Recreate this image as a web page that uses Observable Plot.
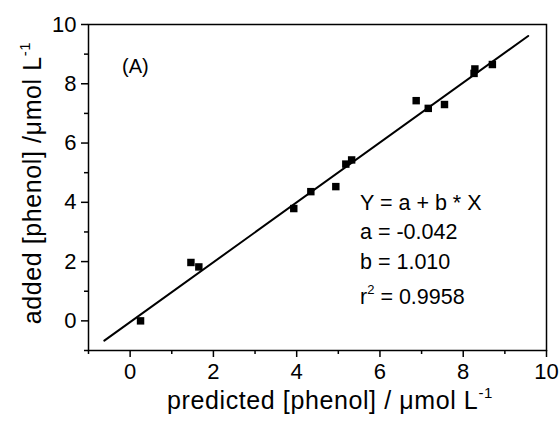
<!DOCTYPE html>
<html>
<head>
<meta charset="utf-8">
<script src="https://cdn.jsdelivr.net/npm/d3@7"></script>
<script src="https://cdn.jsdelivr.net/npm/@observablehq/plot@0.6"></script>
<style>
  html, body { margin: 0; padding: 0; background: #fff; }
  #chart svg { display: block; }
</style>
</head>
<body>
<div id="chart"></div>
<script>
// Data
const predicted = [0.25, 1.46, 1.65, 3.93, 4.34, 4.94, 5.18, 5.32, 6.87, 7.16, 7.55, 8.26, 8.28, 8.70];
const added     = [0.00, 1.97, 1.82, 3.79, 4.36, 4.53, 5.29, 5.43, 7.43, 7.17, 7.30, 8.35, 8.50, 8.65];

// Fit parameters and line extent
const fitA = -0.042;
const fitB = 1.010;
const fitXRange = [-0.62, 9.56];

// Ticks
const majorTicks = [0, 2, 4, 6, 8, 10];
const minorTicks = [-1, 1, 3, 5, 7, 9];

// Texts
const panelLabel = "(A)";
const equationLines = ["Y = a + b * X", "a = -0.042", "b = 1.010"];
const r2Value = "0.9958";
const xLabel = "predicted [phenol] / μmol L";
const yLabel = "added [phenol] /μmol L";
const unitSup = "-1";

const points = predicted.map((p, i) => ({x: p, y: added[i]}));
const fitLine = fitXRange.map(x => ({x, y: fitA + fitB * x}));

const font = "'Liberation Sans', Arial, Helvetica, sans-serif";

const svg = Plot.plot({
  width: 560,
  height: 424,
  marginLeft: 88,
  marginRight: 14,
  marginTop: 24,
  marginBottom: 74,
  style: {fontFamily: font, background: "#fff", color: "#000"},
  x: {domain: [-1, 10]},
  y: {domain: [-1, 10]},
  marks: [
    Plot.frame({stroke: "#000", strokeWidth: 1.5}),
    Plot.axisX({ticks: majorTicks, tickSize: 7, tickPadding: 6, fontSize: 22, strokeWidth: 1.5, label: null}),
    Plot.axisX({ticks: minorTicks, tickSize: 4, text: null, strokeWidth: 1.5, label: null}),
    Plot.axisY({ticks: majorTicks, tickSize: 7, tickPadding: 5, fontSize: 22, strokeWidth: 1.5, label: null}),
    Plot.axisY({ticks: minorTicks, tickSize: 4, text: null, strokeWidth: 1.5, label: null}),
    Plot.line(fitLine, {x: "x", y: "y", stroke: "#000", strokeWidth: 2}),
    Plot.dot(points, {x: "x", y: "y", symbol: "square", r: 4.2, fill: "#000", stroke: "none"})
  ]
});

const s = d3.select(svg);

s.append("text").attr("x", 122).attr("y", 73).attr("text-anchor", "start")
  .attr("font-size", 20).attr("font-family", font).text(panelLabel);

const eqX = 360, eqY0 = 210, eqDy = 29.3;
equationLines.forEach((t, i) => {
  s.append("text").attr("x", eqX).attr("y", eqY0 + i * eqDy).attr("text-anchor", "start")
    .attr("font-size", 21.5).attr("font-family", font).text(t);
});
const r2 = s.append("text").attr("x", eqX).attr("y", 304).attr("text-anchor", "start")
  .attr("font-size", 21.5).attr("font-family", font);
r2.append("tspan").text("r");
r2.append("tspan").attr("font-size", 13).attr("dy", -10).text("2");
r2.append("tspan").attr("dy", 10).text(" = " + r2Value);

const xl = s.append("text").attr("x", 330).attr("y", 409).attr("text-anchor", "middle")
  .attr("font-size", 25).attr("letter-spacing", 0.6).attr("font-family", font);
xl.append("tspan").text(xLabel);
xl.append("tspan").attr("font-size", 15).attr("dy", -11).text(unitSup);

const yl = s.append("text").attr("transform", "translate(41,183) rotate(-90)").attr("text-anchor", "middle")
  .attr("font-size", 25).attr("letter-spacing", 0.6).attr("font-family", font);
yl.append("tspan").text(yLabel);
yl.append("tspan").attr("font-size", 15).attr("dy", -11).text(unitSup);

document.getElementById("chart").appendChild(svg);
</script>
</body>
</html>
